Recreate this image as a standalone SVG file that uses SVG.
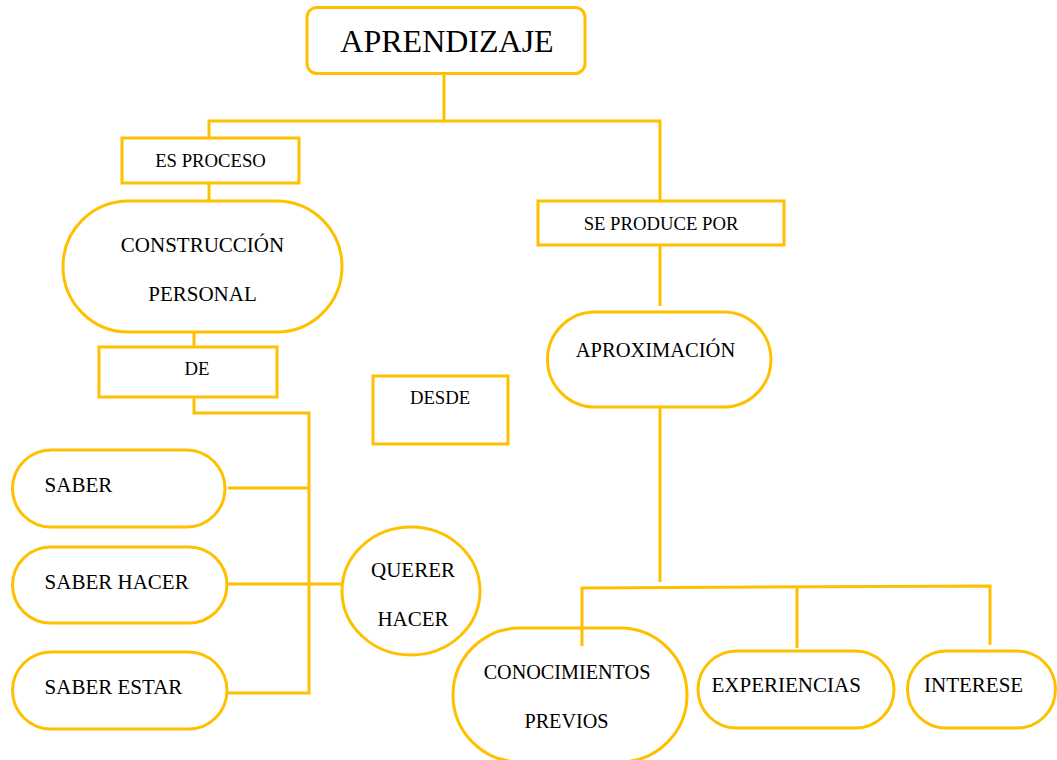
<svg xmlns="http://www.w3.org/2000/svg" width="1057" height="760" viewBox="0 0 1057 760">
<style>
.s{fill:#fff;stroke:#FFC000;stroke-width:3}
.c{fill:none;stroke:#FFC000;stroke-width:3}
text{font-family:"Liberation Serif","Times New Roman",serif;fill:#000}
.n{font-size:21px}
.l{font-size:18.7px}
.m{text-anchor:middle}
</style>
<rect width="1057" height="760" fill="#fff"/>
<g id="connectors">
<path class="c" d="M444,73 V120"/>
<path class="c" d="M209,138 V121 H660 V201"/>
<path class="c" d="M209,183 V201"/>
<path class="c" d="M194,332 V347"/>
<path class="c" d="M194,397 V413 H309 V693 H227"/>
<path class="c" d="M228,488 H309"/>
<path class="c" d="M227,584 H342"/>
<path class="c" d="M660,245 V306"/>
<path class="c" d="M660,407 V582"/>
<path class="c" d="M582,646 V588 L990,586 V645"/>
<path class="c" d="M797,587 V648"/>
</g>
<g id="aprendizaje"><rect class="s" x="307" y="7.5" width="278" height="66" rx="10"/><text class="m" x="447" y="52" font-size="32">APRENDIZAJE</text></g>
<g id="es-proceso"><rect class="s" x="122" y="138" width="177" height="45"/><text class="l m" x="210.5" y="167">ES PROCESO</text></g>
<g id="construccion"><rect class="s" x="63" y="201" width="279" height="131" rx="65.5"/><text class="n m" x="202.5" y="252">CONSTRUCCIÓN</text><text class="n m" x="202.5" y="301">PERSONAL</text></g>
<g id="de"><rect class="s" x="99" y="347" width="178" height="50"/><text class="l m" x="197" y="375">DE</text></g>
<g id="desde"><rect class="s" x="373" y="376" width="135" height="68"/><text class="l m" x="440" y="404">DESDE</text></g>
<g id="se-produce-por"><rect class="s" x="538" y="201" width="246" height="44"/><text class="l m" x="661" y="230">SE PRODUCE POR</text></g>
<g id="aproximacion"><rect class="s" x="547.5" y="312" width="223.5" height="95" rx="47.5"/><text class="m" x="655.5" y="357" font-size="20.5">APROXIMACIÓN</text></g>
<g id="saber"><rect class="s" x="12.5" y="450" width="212.5" height="77" rx="38.5"/><text class="n" x="44.6" y="492">SABER</text></g>
<g id="saber-hacer"><rect class="s" x="12.5" y="547" width="214.5" height="76" rx="38"/><text class="n" x="44.6" y="589">SABER HACER</text></g>
<g id="saber-estar"><rect class="s" x="12.5" y="652" width="214.5" height="77" rx="38.5"/><text class="n" x="44.6" y="694">SABER ESTAR</text></g>
<g id="querer-hacer"><ellipse class="s" cx="411" cy="591" rx="69" ry="64"/><text class="n m" x="413" y="577">QUERER</text><text class="n m" x="413" y="626">HACER</text></g>
<g id="conocimientos"><rect class="s" x="453" y="628" width="234" height="134" rx="67"/><path class="c" d="M582,628 V646"/><text class="m" x="567" y="679" font-size="20.2">CONOCIMIENTOS</text><text class="m" x="566.5" y="728" font-size="20.2">PREVIOS</text></g>
<g id="experiencias"><rect class="s" x="698" y="651" width="196" height="77" rx="38.5"/><text class="n" x="711.5" y="692">EXPERIENCIAS</text></g>
<g id="interese"><rect class="s" x="907.5" y="651" width="148" height="77" rx="38.5"/><text class="n" x="924" y="692">INTERESE</text></g>
</svg>
